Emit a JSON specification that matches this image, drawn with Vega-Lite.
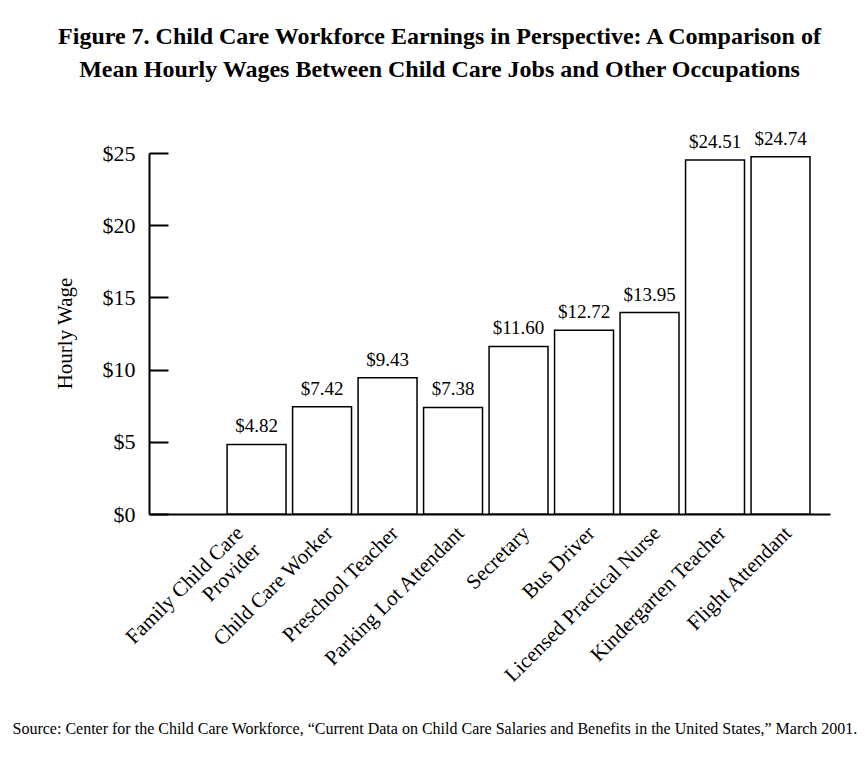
{
  "$schema": "https://vega.github.io/schema/vega-lite/v6.json",
  "width": 681,
  "height": 361,
  "autosize": {"type": "none"},
  "padding": {"left": 149, "top": 153, "right": 36, "bottom": 243},
  "background": "white",
  "title": {
    "text": ["Figure 7.  Child Care Workforce Earnings in Perspective: A Comparison of", "Mean Hourly Wages Between Child Care Jobs and Other Occupations"],
    "anchor": "middle",
    "dx": -50,
    "offset": 48,
    "font": "Liberation Serif",
    "fontSize": 24,
    "fontWeight": "bold",
    "lineHeight": 33,
    "color": "black"
  },
  "data": {
    "values": [
      {"occupation": "Family Child Care Provider", "wage": 4.82},
      {"occupation": "Child Care Worker", "wage": 7.42},
      {"occupation": "Preschool Teacher", "wage": 9.43},
      {"occupation": "Parking Lot Attendant", "wage": 7.38},
      {"occupation": "Secretary", "wage": 11.60},
      {"occupation": "Bus Driver", "wage": 12.72},
      {"occupation": "Licensed Practical Nurse", "wage": 13.95},
      {"occupation": "Kindergarten Teacher", "wage": 24.51},
      {"occupation": "Flight Attendant", "wage": 24.74}
    ]
  },
  "encoding": {
    "x": {
      "field": "occupation",
      "type": "nominal",
      "sort": null,
      "scale": {"paddingInner": 0.1, "paddingOuter": 0.749, "align": 0.796},
      "axis": {
        "title": "Source: Center for the Child Care Workforce, “Current Data on Child Care Salaries and Benefits in the United States,” March 2001.",
        "titleX": -137,
        "titleY": 214,
        "titleAlign": "left",
        "titleBaseline": "middle",
        "titleFont": "Liberation Serif",
        "titleFontSize": 16,
        "titleFontWeight": "normal",
        "titleColor": "black",
        "labelAngle": -45,
        "labelAlign": "right",
        "labelBaseline": "top",
        "labelPadding": 8,
        "labelLimit": 500,
        "labelOverlap": false,
        "labelOffset": {"condition": {"test": "datum.value == 'Family Child Care Provider'", "value": -24}, "value": 0},
        "labelFont": "Liberation Serif",
        "labelFontSize": 21,
        "labelColor": "black",
        "labelLineHeight": 24,
        "labelExpr": "datum.value == 'Family Child Care Provider' ? ['Family Child Care', 'Provider'] : datum.label",
        "ticks": false,
        "domainColor": "black",
        "domainWidth": 2
      }
    },
    "y": {
      "field": "wage",
      "type": "quantitative",
      "scale": {"domain": [0, 25], "nice": false},
      "axis": {
        "title": "Hourly Wage",
        "titleX": -84,
        "titleY": 180,
        "titleAngle": -90,
        "titleAlign": "center",
        "titleBaseline": "middle",
        "titleFont": "Liberation Serif",
        "titleFontSize": 21,
        "titleFontWeight": "normal",
        "titleColor": "black",
        "values": [0, 5, 10, 15, 20, 25],
        "labelExpr": "'$' + datum.value",
        "labelFont": "Liberation Serif",
        "labelFontSize": 22,
        "labelColor": "black",
        "labelPadding": 33,
        "tickSize": -19,
        "tickWidth": 2,
        "tickColor": "black",
        "domainColor": "black",
        "domainWidth": 2,
        "grid": false
      }
    }
  },
  "layer": [
    {
      "mark": {"type": "bar", "fill": "white", "stroke": "black", "strokeWidth": 1.5}
    },
    {
      "mark": {"type": "text", "baseline": "bottom", "dy": -8, "font": "Liberation Serif", "fontSize": 19, "color": "black"},
      "encoding": {
        "text": {"field": "wage", "type": "quantitative", "format": "$.2f"}
      }
    }
  ],
  "config": {
    "view": {"stroke": null}
  }
}
